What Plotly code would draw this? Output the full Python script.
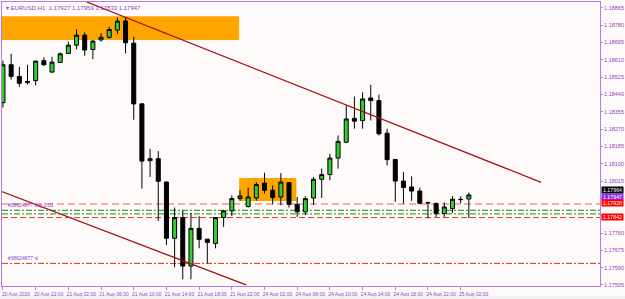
import plotly.graph_objects as go

# ---------------- data ----------------
bar_index = list(range(58))
open_ = [1.18400, 1.18586, 1.18529, 1.18498, 1.18508, 1.18606, 1.18550, 1.18597, 1.18641, 1.18682,
         1.18731, 1.18661, 1.18708, 1.18720, 1.18756, 1.18801, 1.18692, 1.18394, 1.18115, 1.18125,
         1.18010, 1.17734, 1.17836, 1.17598, 1.17783, 1.17730, 1.17709, 1.17836, 1.17869, 1.17929,
         1.17890, 1.17932, 1.18005, 1.17970, 1.17937, 1.18007, 1.17901, 1.17864, 1.17932, 1.18024,
         1.18047, 1.18128, 1.18206, 1.18323, 1.18312, 1.18423, 1.18410, 1.18250, 1.18121, 1.18015,
         1.17986, 1.17966, 1.17910, 1.17905, 1.17856, 1.17880, 1.17924, 1.17927]
high = [1.18606, 1.18640, 1.18576, 1.18586, 1.18606, 1.18622, 1.18625, 1.18646, 1.18699, 1.18761,
        1.18744, 1.18708, 1.18741, 1.18772, 1.18817, 1.18816, 1.18723, 1.18395, 1.18174, 1.18162,
        1.18014, 1.17885, 1.17872, 1.17859, 1.17843, 1.17730, 1.17836, 1.17872, 1.17945, 1.17970,
        1.17983, 1.18010, 1.18056, 1.17994, 1.18054, 1.18009, 1.17937, 1.17941, 1.18035, 1.18076,
        1.18149, 1.18239, 1.18386, 1.18430, 1.18451, 1.18487, 1.18439, 1.18272, 1.18121, 1.18059,
        1.18038, 1.17983, 1.17913, 1.17910, 1.17910, 1.17941, 1.17941, 1.17959]
low = [1.18376, 1.18513, 1.18478, 1.18488, 1.18485, 1.18581, 1.18547, 1.18596, 1.18640, 1.18661,
       1.18630, 1.18614, 1.18700, 1.18715, 1.18736, 1.18641, 1.18316, 1.17978, 1.18035, 1.17820,
       1.17701, 1.17592, 1.17533, 1.17533, 1.17685, 1.17611, 1.17685, 1.17790, 1.17844, 1.17919,
       1.17885, 1.17919, 1.17954, 1.17901, 1.17897, 1.17885, 1.17839, 1.17848, 1.17897, 1.17932,
       1.18019, 1.18076, 1.18201, 1.18272, 1.18272, 1.18312, 1.18239, 1.18092, 1.17913, 1.17905,
       1.17918, 1.17905, 1.17832, 1.17839, 1.17839, 1.17859, 1.17905, 1.17833]
close = [1.18586, 1.18529, 1.18495, 1.18504, 1.18604, 1.18586, 1.18599, 1.18640, 1.18682, 1.18731,
         1.18658, 1.18702, 1.18721, 1.18759, 1.18800, 1.18694, 1.18394, 1.18113, 1.18125, 1.18014,
         1.17734, 1.17836, 1.17598, 1.17783, 1.17729, 1.17714, 1.17836, 1.17869, 1.17929, 1.17942,
         1.17937, 1.17998, 1.17970, 1.17934, 1.18010, 1.17901, 1.17864, 1.17929, 1.18024, 1.18047,
         1.18128, 1.18210, 1.18320, 1.18309, 1.18418, 1.18410, 1.18247, 1.18120, 1.18015, 1.17983,
         1.17966, 1.17906, 1.17908, 1.17856, 1.17888, 1.17926, 1.17925, 1.17947]

x_tick_index = [0, 4, 8, 12, 16, 20, 24, 28, 32, 36, 40, 44, 48, 52, 56]
x_tick_labels = ["20 Aug 2020", "20 Aug 22:00", "21 Aug 02:00", "21 Aug 06:00", "21 Aug 10:00",
                 "21 Aug 14:00", "21 Aug 18:00", "21 Aug 22:00", "24 Aug 02:00", "24 Aug 06:00",
                 "24 Aug 10:00", "24 Aug 14:00", "24 Aug 18:00", "24 Aug 22:00", "25 Aug 02:00"]
y_tick_values = [1.18865, 1.18780, 1.18695, 1.18610, 1.18525, 1.18440, 1.18355, 1.18270, 1.18185,
                 1.18100, 1.18015, 1.17930, 1.17845, 1.17760, 1.17675, 1.17590, 1.17505]
# labels hidden behind the price boxes on the right scale
y_tick_hidden = [1.17930, 1.17845]
y_tick_labels = ["" if v in y_tick_hidden else "%.5f" % v for v in y_tick_values]

# chart objects
zone_upper = {"x": [-1.0, 28.9], "y": [1.18707, 1.18824]}
zone_lower = {"x": [28.9, 35.9], "y": [1.17917, 1.18030]}
trend_upper = {"x": [10.24, 65.85], "y": [1.18894, 1.18009]}
trend_lower = {"x": [-0.24, 29.75], "y": [1.17965, 1.17505]}
level_pink = 1.17903
level_green_1 = 1.17871
level_green_2 = 1.17854
level_red = 1.17836
level_sl = 1.17611

title_text = "EURUSD,H1  1.17927 1.17959 1.17833 1.17947"
order_label = "#38624877 buy 0.01"
sl_label = "#38624877 sl"
box_texts = ["1.17964", "1.17947", "1.17920", "1.17842"]
box_prices = [1.17971, 1.17938, 1.17909, 1.17840]
box_colors = ["#000000", "#8A2BE2", "#FF0000", "#FF0000"]

# ---------------- figure ----------------
AXC = "#B57EDC"
TXC = "#8A3FC8"
FONT = "Liberation Sans, Arial, sans-serif"

fig = go.Figure()
fig.add_trace(go.Candlestick(
    x=bar_index, open=open_, high=high, low=low, close=close,
    increasing=dict(fillcolor="#32CD32", line=dict(color="#000000", width=1)),
    decreasing=dict(fillcolor="#000000", line=dict(color="#000000", width=1)),
    whiskerwidth=0, showlegend=False, hoverinfo="skip",
))

shapes = []
for z in (zone_upper, zone_lower):
    shapes.append(dict(type="rect", xref="x", yref="y", x0=z["x"][0], x1=z["x"][1],
                       y0=z["y"][0], y1=z["y"][1], fillcolor="#FFA500", line=dict(width=0),
                       layer="below"))
for t in (trend_upper, trend_lower):
    shapes.append(dict(type="line", xref="x", yref="y", x0=t["x"][0], x1=t["x"][1],
                       y0=t["y"][0], y1=t["y"][1], line=dict(color="#A01010", width=1.3)))
shapes.append(dict(type="line", xref="paper", yref="y", x0=0, x1=1, y0=level_pink, y1=level_pink,
                   line=dict(color="#FFA8A8", width=2, dash="7px,4px"), layer="below"))
for lv in (level_green_1, level_green_2):
    shapes.append(dict(type="line", xref="paper", yref="y", x0=0, x1=1, y0=lv, y1=lv,
                       line=dict(color="#3CA83C", width=1.2, dash="6px,2px,2px,2px"), layer="below"))
shapes.append(dict(type="line", xref="paper", yref="y", x0=0, x1=1, y0=level_red, y1=level_red,
                   line=dict(color="#F03030", width=1, dash="6px,3px"), layer="below"))
shapes.append(dict(type="line", xref="paper", yref="y", x0=0, x1=1, y0=level_sl, y1=level_sl,
                   line=dict(color="#E03010", width=1, dash="6px,2px,2px,2px"), layer="below"))
# window frame strip at the bottom
shapes.append(dict(type="rect", xref="paper", yref="paper", x0=-0.01, x1=1.05, y0=-0.06, y1=-0.036,
                   fillcolor="#F0F0F0", line=dict(width=0)))

annotations = [
    dict(text="\u25be " + title_text, xref="paper", yref="paper", x=0.004, y=1.0, xanchor="left",
         yanchor="top", yshift=-1, showarrow=False, font=dict(family=FONT, size=6, color=TXC)),
    dict(text=order_label, xref="paper", yref="y", x=0.007, y=level_green_1, xanchor="left",
         yanchor="bottom", showarrow=False, font=dict(family=FONT, size=5, color=TXC)),
    dict(text=sl_label, xref="paper", yref="y", x=0.007, y=level_sl, xanchor="left",
         yanchor="bottom", showarrow=False, font=dict(family=FONT, size=5, color=TXC)),
]
for txt, pv, col in zip(box_texts, box_prices, box_colors):
    annotations.append(dict(text=txt, xref="paper", yref="y", x=1.0, y=pv, xanchor="left",
                            yanchor="middle", xshift=1, showarrow=False, bgcolor=col,
                            borderpad=0, width=21, height=6, align="center",
                            font=dict(family=FONT, size=5.3, color="#FFFFFF")))

fig.update_layout(
    width=625, height=299,
    margin=dict(l=1, r=24, t=1, b=13),
    paper_bgcolor="#FFFAFA", plot_bgcolor="#FFFAFA",
    shapes=shapes, annotations=annotations, showlegend=False,
    xaxis=dict(range=[-0.12, 73.05], rangeslider=dict(visible=False), showgrid=False,
               zeroline=False, tickmode="array", tickvals=x_tick_index, ticktext=x_tick_labels,
               ticks="outside", ticklen=3, tickcolor=AXC, ticklabelshift=13,
               tickfont=dict(family=FONT, size=5, color=TXC),
               showline=True, linecolor=AXC, linewidth=1, mirror=True),
    yaxis=dict(range=[1.17500, 1.18894], side="right", showgrid=False, zeroline=False,
               tickmode="array", tickvals=y_tick_values, ticktext=y_tick_labels,
               ticks="outside", ticklen=2, tickcolor=AXC,
               tickfont=dict(family=FONT, size=5.5, color=TXC),
               showline=True, linecolor=AXC, linewidth=1, mirror=True),
)

fig.write_html("out.html")
